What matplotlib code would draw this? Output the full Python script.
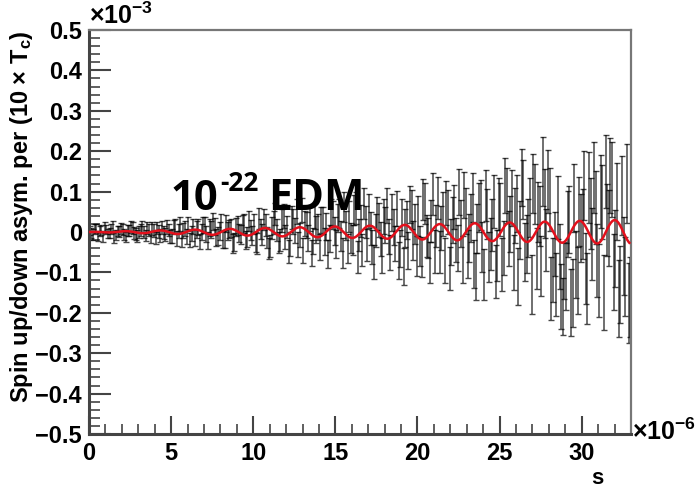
import numpy as np
import matplotlib as mpl
mpl.use('Agg')
import matplotlib.pyplot as plt
from matplotlib.ticker import MultipleLocator

plt.rcParams['font.family'] = 'Liberation Sans'
plt.rcParams['font.weight'] = 'bold'

# time bins (units of 1e-6 s), 0.1 us wide, listed as two interleaved halves
bin_width = 0.1
n_pairs = 165

# asymmetry in the first bin of each pair (units of 1e-3)
asym_a = [
    0.004, -0.006, 0.009, 0.002, -0.011, 0.006, -0.003, 0.012, -0.008, 0.001,
    0.007, -0.012, 0.003, 0.010, -0.005, -0.001, 0.013, -0.009, 0.004, 0.008,
    -0.014, 0.002, 0.011, -0.006, 0.005,
    -0.010, 0.015, 0.003, -0.019, 0.008, 0.020, -0.004, -0.015, 0.012, 0.001,
    0.018, -0.022, 0.006, 0.013, -0.009, 0.024, -0.017, 0.002, 0.010, -0.025,
    0.016, -0.006, 0.021, -0.012, 0.005,
    0.020, -0.028, 0.008, 0.031, -0.014, -0.035, 0.024, 0.005, -0.020, 0.040,
    0.012, -0.030, 0.026, 0.050, -0.008, -0.045, 0.018, 0.034, -0.022, 0.006,
    -0.038, 0.029, 0.014, -0.016, 0.042,
    -0.030, 0.046, -0.052, 0.015, 0.038, -0.020, 0.060, -0.008, -0.044, 0.025,
    0.052, -0.036, 0.004, 0.030, -0.058, 0.018, -0.012, 0.048, -0.028, -0.070,
    0.036, 0.010, -0.046, 0.056, 0.020,
    0.040, -0.062, 0.070, -0.015, 0.028, -0.048, 0.085, 0.010, -0.070, 0.050,
    -0.025, 0.062, -0.040, 0.020, 0.092, -0.055, 0.035, -0.080, 0.008, 0.066,
    -0.105, 0.045, -0.030, 0.075, -0.058,
    0.055, -0.040, 0.090, 0.020, -0.075, 0.070, 0.005, 0.105, -0.030, 0.060,
    0.120, -0.065, 0.040, 0.150, -0.020, 0.080, -0.095, -0.130, -0.060, -0.185,
    -0.110, 0.030, -0.150, -0.080, 0.050,
    0.020, -0.090, 0.110, -0.030, 0.060, -0.120, 0.075, 0.150, 0.010, 0.130,
    -0.040, -0.165, 0.090, -0.110, -0.175,
]
# asymmetry in the second bin of each pair (units of 1e-3)
asym_b = [
    -0.003, 0.008, -0.010, 0.005, 0.011, -0.004, 0.007, -0.012, 0.002, 0.009,
    -0.007, 0.004, 0.012, -0.002, -0.010, 0.006, 0.001, 0.010, -0.013, 0.003,
    0.009, -0.008, -0.002, 0.012, -0.011,
    0.012, -0.016, 0.020, 0.004, -0.011, -0.020, 0.014, 0.006, -0.024, 0.017,
    -0.005, 0.010, 0.026, -0.014, 0.002, -0.018, 0.021, 0.008, -0.028, 0.013,
    -0.002, 0.019, -0.020, 0.027, -0.009,
    -0.025, 0.034, -0.006, 0.018, -0.040, 0.010, 0.045, -0.026, 0.028, -0.012,
    -0.048, 0.036, 0.004, -0.030, 0.055, 0.022, -0.015, -0.052, 0.040, 0.012,
    0.030, -0.024, -0.055, 0.048, 0.002,
    0.035, -0.010, 0.062, -0.040, -0.015, 0.055, -0.062, 0.028, 0.070, -0.032,
    0.008, -0.075, 0.045, -0.018, 0.038, 0.066, -0.050, 0.012, 0.058, -0.040,
    -0.085, 0.030, 0.068, -0.022, -0.060,
    -0.035, 0.080, -0.010, -0.075, 0.095, 0.015, -0.050, 0.045, 0.072, -0.090,
    0.030, -0.020, 0.100, -0.068, 0.052, -0.015, 0.085, -0.110, 0.060, -0.038,
    0.090, -0.062, 0.018, -0.098, 0.070,
    -0.080, 0.115, -0.015, 0.085, 0.040, -0.110, 0.135, -0.050, 0.010, -0.130,
    0.095, 0.050, -0.085, 0.070, 0.125, -0.140, -0.030, 0.060, -0.160, -0.095,
    0.020, -0.175, 0.085, -0.120, 0.010,
    0.115, -0.140, 0.045, 0.135, -0.070, 0.100, -0.150, 0.030, 0.140, -0.100,
    0.075, -0.130, -0.060, 0.120, -0.160,
]
# statistical error, shared by both bins of a pair (units of 1e-3)
asym_err = [
    0.012, 0.013, 0.012, 0.013, 0.013, 0.012, 0.013, 0.014, 0.013, 0.014,
    0.014, 0.013, 0.014, 0.015, 0.014, 0.015, 0.015, 0.014, 0.015, 0.016,
    0.015, 0.016, 0.016, 0.017, 0.016,
    0.017, 0.018, 0.017, 0.018, 0.019, 0.018, 0.019, 0.020, 0.019, 0.020,
    0.020, 0.021, 0.020, 0.021, 0.022, 0.021, 0.022, 0.022, 0.023, 0.022,
    0.023, 0.024, 0.023, 0.024, 0.024,
    0.025, 0.026, 0.025, 0.027, 0.026, 0.027, 0.028, 0.027, 0.028, 0.029,
    0.028, 0.029, 0.030, 0.031, 0.030, 0.031, 0.032, 0.031, 0.032, 0.033,
    0.032, 0.033, 0.034, 0.033, 0.035,
    0.035, 0.036, 0.037, 0.036, 0.038, 0.037, 0.039, 0.040, 0.039, 0.040,
    0.041, 0.042, 0.041, 0.042, 0.043, 0.044, 0.043, 0.045, 0.044, 0.046,
    0.045, 0.047, 0.046, 0.048, 0.049,
    0.049, 0.050, 0.051, 0.050, 0.052, 0.053, 0.052, 0.054, 0.055, 0.054,
    0.056, 0.055, 0.057, 0.058, 0.057, 0.059, 0.060, 0.059, 0.061, 0.062,
    0.063, 0.062, 0.064, 0.065, 0.064,
    0.066, 0.067, 0.068, 0.069, 0.068, 0.070, 0.071, 0.072, 0.071, 0.073,
    0.074, 0.075, 0.074, 0.085, 0.077, 0.078, 0.079, 0.078, 0.080, 0.070,
    0.082, 0.083, 0.084, 0.083, 0.085,
    0.086, 0.087, 0.088, 0.089, 0.090, 0.091, 0.092, 0.090, 0.093, 0.094,
    0.095, 0.096, 0.097, 0.098, 0.099,
]

# fitted oscillation: amplitude grows linearly with time
fit_slope = 0.00092    # 1e-3 per us
fit_period = 2.13      # us
fit_peak = 32.0        # us, time of a maximum
fit_end = 32.9

yticks = [-0.5, -0.4, -0.3, -0.2, -0.1, 0, 0.1, 0.2, 0.3, 0.4, 0.5]
ytick_labels = ['\u22120.5', '\u22120.4', '\u22120.3', '\u22120.2', '\u22120.1',
                '0', '0.1', '0.2', '0.3', '0.4', '0.5']
xticks = [0, 5, 10, 15, 20, 25, 30]
xtick_labels = ['0', '5', '10', '15', '20', '25', '30']

t_a = 2*bin_width*np.arange(n_pairs) + 0.5*bin_width
t_b = t_a + bin_width

fig = plt.figure(figsize=(6.97, 4.91), dpi=100, facecolor='white')
ax = fig.add_axes([89/697, 1 - 434/491, (631-89)/697, (434-30)/491])

for tt, vals in [(t_a, asym_a), (t_b, asym_b)]:
    ax.errorbar(tt, vals, yerr=asym_err, fmt='none', ecolor='black',
                elinewidth=1.1, capsize=2.0, capthick=1.0, alpha=0.72, zorder=2)

ft = np.linspace(0, fit_end, 800)
fy = fit_slope * ft * np.cos(2*np.pi*(ft - fit_peak)/fit_period)
ax.plot(ft, fy, color='#e3101c', lw=1.8, zorder=3)

ax.set_xlim(0, 33)
ax.set_ylim(-0.5, 0.5)
ax.set_yticks(yticks)
ax.set_yticklabels(ytick_labels)
ax.set_xticks(xticks)
ax.set_xticklabels(xtick_labels)
ax.yaxis.set_minor_locator(MultipleLocator(0.02))
ax.xaxis.set_minor_locator(MultipleLocator(1))

ax.tick_params(which='both', direction='in', top=False, right=False,
               color='#444444', labelsize=17)
ax.tick_params(axis='y', which='major', length=16, width=1.5, pad=5)
ax.tick_params(axis='y', which='minor', length=8, width=1.2)
ax.tick_params(axis='x', which='major', length=13, width=1.5, pad=6)
ax.tick_params(axis='x', which='minor', length=7, width=1.2)
for lab in ax.get_xticklabels() + ax.get_yticklabels():
    lab.set_fontweight('bold')

for side in ['left', 'bottom']:
    ax.spines[side].set_linewidth(2.2)
    ax.spines[side].set_color('#444444')
for side in ['top', 'right']:
    ax.spines[side].set_linewidth(1.6)
    ax.spines[side].set_color('#777777')

plt.rcParams['mathtext.fontset'] = 'custom'
plt.rcParams['mathtext.rm'] = 'Liberation Sans'
plt.rcParams['mathtext.it'] = 'Liberation Sans:italic'
plt.rcParams['mathtext.bf'] = 'Liberation Sans:bold'

ax.text(0.0, 1.002, r'$\times\mathrm{10}^{-3}$', transform=ax.transAxes,
        fontsize=18, fontweight='normal', ha='left', va='bottom')
ax.text(1.002, 0.005, r'$\times\mathrm{10}^{-6}$', transform=ax.transAxes,
        fontsize=18, fontweight='normal', ha='left', va='center')

fig.text(22/697, 1 - 30/491, r'Spin up/down asym. per (10 $\times$ T$_\mathbf{c}$)',
         rotation=90, ha='center', va='top', fontsize=17, fontweight='bold')
fig.text(597/697, 1 - 478/491, 's', ha='center', va='center',
         fontsize=16, fontweight='bold')

# slide annotation
fig.text(171/697, 1 - 210/491, '10', fontsize=30, fontweight='bold',
         family='Open Sans', ha='left', va='baseline')
fig.text(220/697, 1 - 191/491, '-22', fontsize=19, fontweight='bold',
         family='Open Sans', ha='left', va='baseline')
fig.text(268/697, 1 - 210/491, 'EDM', fontsize=31, fontweight='bold',
         family='Open Sans', ha='left', va='baseline')

plt.savefig('out.png', dpi=100, facecolor='white')
